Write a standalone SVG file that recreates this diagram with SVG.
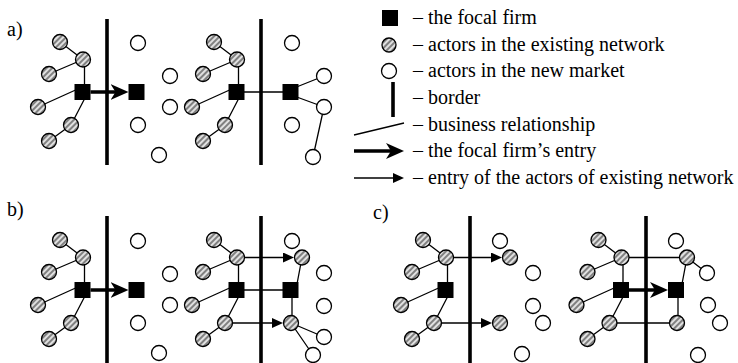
<svg xmlns="http://www.w3.org/2000/svg" width="738" height="363" viewBox="0 0 738 363">
<style>
.ln{stroke:#000;stroke-width:1.3;fill:none}
.ar{stroke:#000;stroke-width:1.5;fill:none}
.tk{stroke:#000;stroke-width:3.5;fill:none}
.bd{stroke:#000;stroke-width:3.6;fill:none}
.hc{fill:url(#hatch);stroke:#000;stroke-width:1.3}
.wc{fill:#fff;stroke:#000;stroke-width:1.3}
.sq{fill:#000}
.tx{font-family:"Liberation Serif","Times New Roman",serif;font-size:20px;fill:#000}
</style>
<defs>
<pattern id="hatch" patternUnits="userSpaceOnUse" width="4" height="4" patternTransform="rotate(-45)">
<rect width="4" height="4" fill="#e0e0e0"/><rect width="4" height="2" fill="#808080"/>
</pattern>
<marker id="mThick" markerUnits="userSpaceOnUse" viewBox="0 0 18 18" markerWidth="18" markerHeight="18" refX="8" refY="9" orient="auto">
<path d="M0,1 L18,9 L0,17 L5,9 Z" fill="#000"/>
</marker>
<marker id="mThin" markerUnits="userSpaceOnUse" viewBox="0 0 11 10" markerWidth="11" markerHeight="10" refX="1" refY="5" orient="auto">
<path d="M0,0 L11,5 L0,10 Z" fill="#000"/>
</marker>
</defs>
<rect width="738" height="363" fill="#fff"/>

<g id="borders">
<line class="bd" x1="107" y1="19" x2="107" y2="165"/>
<line class="bd" x1="261" y1="19" x2="261" y2="165"/>
<line class="bd" x1="107" y1="216" x2="107" y2="363"/>
<line class="bd" x1="261" y1="216" x2="261" y2="363"/>
<line class="bd" x1="470" y1="216" x2="470" y2="363"/>
<line class="bd" x1="646" y1="216" x2="646" y2="363"/>
</g>

<g id="connectors">
<path class="ln" d="M60 42L83 59.5M83 59.5L49 74M84.5 59.5V92M38 107L80 88M86 96L71 125M71 125L49 141"/>
<line class="tk" x1="90.5" y1="92" x2="118.5" y2="92" marker-end="url(#mThick)"/>
<path class="ln" d="M214 42L237 59.5M237 59.5L203 74M238.5 59.5V92M192 107L234 88M240 96L225 125M225 125L203 141"/>
<path class="ln" d="M236.5 92H290.5M294 88L324 76M294 96L324 107M324 107L313 157"/>
<path class="ln" d="M60 240L83 257.5M83 257.5L49 272M84.5 257.5V290M38 305L80 286M86 294L71 323M71 323L49 339"/>
<line class="tk" x1="90.5" y1="290" x2="118.5" y2="290" marker-end="url(#mThick)"/>
<path class="ln" d="M214 240L237 257.5M237 257.5L203 272M238.5 257.5V290M192 305L234 286M240 294L225 323M225 323L203 339"/>
<path class="ln" d="M236.5 290H290.5M297 284L302 257.5M292 290V323M291 323L324 337M291 323L313 355"/>
<line class="ar" x1="237" y1="257.5" x2="284" y2="257.5" marker-end="url(#mThin)"/>
<line class="ar" x1="225" y1="323" x2="273" y2="323" marker-end="url(#mThin)"/>
<path class="ln" d="M423 240L446 257.5M446 257.5L412 272M447.5 257.5V290M401 305L443 286M449 294L434 323M434 323L412 339"/>
<line class="ar" x1="446" y1="257.5" x2="492" y2="257.5" marker-end="url(#mThin)"/>
<line class="ar" x1="434" y1="323" x2="482" y2="323" marker-end="url(#mThin)"/>
<path class="ln" d="M598.5 240L621.5 257.5M621.5 257.5L587.5 272M623 257.5V290M576.5 305L618.5 286M624.5 294L609.5 323M609.5 323L587.5 339"/>
<path class="ln" d="M621.5 257.5H687M609.5 323H677M682 284L687 257.5M678 290V323M687 257.5L707 273"/>
<line class="tk" x1="629" y1="290" x2="658" y2="290" marker-end="url(#mThick)"/>
</g>

<g id="a-left">
<g id="a-left-firm"><rect class="sq" x="74.5" y="84" width="16" height="16"/></g>
<g id="a-left-entry"><rect class="sq" x="128.5" y="84" width="16" height="16"/></g>
<g id="a-left-existing">
<circle class="hc" cx="60" cy="42" r="7.5"/><circle class="hc" cx="83" cy="59.5" r="7.5"/><circle class="hc" cx="49" cy="74" r="7.5"/>
<circle class="hc" cx="38" cy="107" r="7.5"/><circle class="hc" cx="71" cy="125" r="7.5"/><circle class="hc" cx="49" cy="141" r="7.5"/>
</g>
<g id="a-left-new">
<circle class="wc" cx="138" cy="43" r="7.5"/><circle class="wc" cx="170" cy="76" r="7.5"/><circle class="wc" cx="170" cy="107" r="7.5"/>
<circle class="wc" cx="138" cy="125" r="7.5"/><circle class="wc" cx="159" cy="155" r="7.5"/>
</g>
</g>

<g id="a-right">
<g id="a-right-firm"><rect class="sq" x="228.5" y="84" width="16" height="16"/></g>
<g id="a-right-entry"><rect class="sq" x="282.5" y="84" width="16" height="16"/></g>
<g id="a-right-existing">
<circle class="hc" cx="214" cy="42" r="7.5"/><circle class="hc" cx="237" cy="59.5" r="7.5"/><circle class="hc" cx="203" cy="74" r="7.5"/>
<circle class="hc" cx="192" cy="107" r="7.5"/><circle class="hc" cx="225" cy="125" r="7.5"/><circle class="hc" cx="203" cy="141" r="7.5"/>
</g>
<g id="a-right-new">
<circle class="wc" cx="292" cy="43" r="7.5"/><circle class="wc" cx="324" cy="76" r="7.5"/><circle class="wc" cx="324" cy="107" r="7.5"/>
<circle class="wc" cx="292" cy="125" r="7.5"/><circle class="wc" cx="313" cy="157" r="7.5"/>
</g>
</g>

<g id="b-left">
<g id="b-left-firm"><rect class="sq" x="74.5" y="282" width="16" height="16"/></g>
<g id="b-left-entry"><rect class="sq" x="128.5" y="282" width="16" height="16"/></g>
<g id="b-left-existing">
<circle class="hc" cx="60" cy="240" r="7.5"/><circle class="hc" cx="83" cy="257.5" r="7.5"/><circle class="hc" cx="49" cy="272" r="7.5"/>
<circle class="hc" cx="38" cy="305" r="7.5"/><circle class="hc" cx="71" cy="323" r="7.5"/><circle class="hc" cx="49" cy="339" r="7.5"/>
</g>
<g id="b-left-new">
<circle class="wc" cx="138" cy="241" r="7.5"/><circle class="wc" cx="170" cy="274" r="7.5"/><circle class="wc" cx="170" cy="305" r="7.5"/>
<circle class="wc" cx="138" cy="323" r="7.5"/><circle class="wc" cx="159" cy="353" r="7.5"/>
</g>
</g>

<g id="b-right">
<g id="b-right-firm"><rect class="sq" x="228.5" y="282" width="16" height="16"/></g>
<g id="b-right-entry"><rect class="sq" x="282.5" y="282" width="16" height="16"/></g>
<g id="b-right-existing">
<circle class="hc" cx="214" cy="240" r="7.5"/><circle class="hc" cx="237" cy="257.5" r="7.5"/><circle class="hc" cx="203" cy="272" r="7.5"/>
<circle class="hc" cx="192" cy="305" r="7.5"/><circle class="hc" cx="225" cy="323" r="7.5"/><circle class="hc" cx="203" cy="339" r="7.5"/>
<circle class="hc" cx="302" cy="257.5" r="7.5"/><circle class="hc" cx="291" cy="323" r="7.5"/>
</g>
<g id="b-right-new">
<circle class="wc" cx="292" cy="241" r="7.5"/><circle class="wc" cx="324" cy="273" r="7.5"/><circle class="wc" cx="324" cy="306" r="7.5"/>
<circle class="wc" cx="324" cy="337" r="7.5"/><circle class="wc" cx="313" cy="355" r="7.5"/>
</g>
</g>

<g id="c-left">
<g id="c-left-firm"><rect class="sq" x="437.5" y="282" width="16" height="16"/></g>
<g id="c-left-existing">
<circle class="hc" cx="423" cy="240" r="7.5"/><circle class="hc" cx="446" cy="257.5" r="7.5"/><circle class="hc" cx="412" cy="272" r="7.5"/>
<circle class="hc" cx="401" cy="305" r="7.5"/><circle class="hc" cx="434" cy="323" r="7.5"/><circle class="hc" cx="412" cy="339" r="7.5"/>
<circle class="hc" cx="510" cy="257.5" r="7.5"/><circle class="hc" cx="500" cy="323" r="7.5"/>
</g>
<g id="c-left-new">
<circle class="wc" cx="500" cy="241" r="7.5"/><circle class="wc" cx="533" cy="273" r="7.5"/><circle class="wc" cx="533" cy="306" r="7.5"/>
<circle class="wc" cx="543" cy="323" r="7.5"/><circle class="wc" cx="522" cy="354" r="7.5"/>
</g>
</g>

<g id="c-right">
<g id="c-right-firm"><rect class="sq" x="613" y="282" width="16" height="16"/></g>
<g id="c-right-entry"><rect class="sq" x="668" y="282" width="16" height="16"/></g>
<g id="c-right-existing">
<circle class="hc" cx="598.5" cy="240" r="7.5"/><circle class="hc" cx="621.5" cy="257.5" r="7.5"/><circle class="hc" cx="587.5" cy="272" r="7.5"/>
<circle class="hc" cx="576.5" cy="305" r="7.5"/><circle class="hc" cx="609.5" cy="323" r="7.5"/><circle class="hc" cx="587.5" cy="339" r="7.5"/>
<circle class="hc" cx="687" cy="257.5" r="7.5"/><circle class="hc" cx="677" cy="323" r="7.5"/>
</g>
<g id="c-right-new">
<circle class="wc" cx="676" cy="241" r="7.5"/><circle class="wc" cx="707" cy="273" r="7.5"/><circle class="wc" cx="708" cy="305" r="7.5"/>
<circle class="wc" cx="720" cy="323" r="7.5"/><circle class="wc" cx="698" cy="355" r="7.5"/>
</g>
</g>

<g id="labels">
<text class="tx" x="7" y="36">a)</text>
<text class="tx" x="7" y="216">b)</text>
<text class="tx" x="373" y="219">c)</text>
</g>

<g id="legend">
<rect class="sq" x="382" y="10" width="16" height="16"/>
<circle class="hc" cx="389" cy="45" r="7"/>
<circle class="wc" cx="389" cy="71" r="7.5"/>
<line class="bd" x1="393" y1="82" x2="393" y2="117"/>
<line class="ln" x1="354" y1="135" x2="404" y2="123"/>
<line class="tk" x1="354" y1="151" x2="394" y2="151" marker-end="url(#mThick)"/>
<line class="ar" x1="354" y1="178" x2="394" y2="178" marker-end="url(#mThin)"/>
<text class="tx" x="413" y="24">– the focal firm</text>
<text class="tx" x="413" y="50.7">– actors in the existing network</text>
<text class="tx" x="413" y="77.3">– actors in the new market</text>
<text class="tx" x="413" y="104">– border</text>
<text class="tx" x="413" y="130.7">– business relationship</text>
<text class="tx" x="413" y="157.3">– the focal firm’s entry</text>
<text class="tx" x="413" y="184">– entry of the actors of existing network</text>
</g>
</svg>
